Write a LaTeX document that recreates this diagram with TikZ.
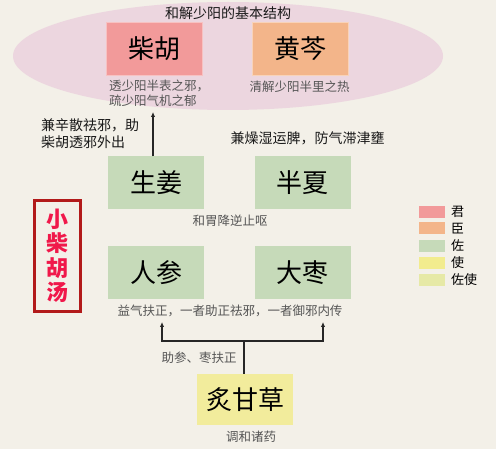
\documentclass[tikz,border=0pt]{standalone}
\usepackage{fontspec}
\newfontfamily\cjk{Noto Sans CJK SC}
\usetikzlibrary{arrows.meta,calc}
\definecolor{bg}{HTML}{F3F0E8}
\definecolor{ellc}{HTML}{ECD6DF}
\definecolor{jun}{HTML}{F29A9A}
\definecolor{chen}{HTML}{F3B58A}
\definecolor{zuo}{HTML}{C6DAB9}
\definecolor{shi}{HTML}{F2EC8E}
\definecolor{zuoshi}{HTML}{E6E9A6}
\definecolor{gancaoc}{HTML}{F2EC9C}
\definecolor{notec}{HTML}{555555}
\definecolor{darkred}{HTML}{B21A1A}
\definecolor{redtxt}{HTML}{F0184A}
\begin{document}
\begin{tikzpicture}[x=1pt,y=-1pt,
  herb/.style={minimum width=96pt,minimum height=53pt,inner sep=0pt,
    font=\cjk\fontsize{26}{26}\selectfont,text=black},
  note/.style={inner sep=0pt,font=\cjk\fontsize{12.5}{15}\selectfont,text=notec},
  strong/.style={inner sep=0pt,font=\cjk\fontsize{14}{17}\selectfont,text=black!90},
  conn/.style={draw=black!85,line width=1.2pt},
  arr/.style={conn,-{Latex[length=5pt,width=4.5pt]}},
  swatch/.style={minimum width=26pt,minimum height=12pt,inner sep=0pt},
  leglab/.style={inner sep=0pt,anchor=west,font=\cjk\fontsize{13}{13}\selectfont,text=black}]
\fill[bg] (0,0) rectangle (496,449);
\useasboundingbox (0,0) rectangle (496,449);
% ellipse
\fill[ellc] (228,56) ellipse [x radius=215pt, y radius=54pt];
\node[strong] (title) at (228,13) {和解少阳的基本结构};
% herbs
\node[herb,fill=jun,draw=jun!60,line width=0.8pt] (chaihu) at (154.5,48.5) {柴胡};
\node[herb,fill=chen,draw=chen!60,line width=0.8pt] (huangqin) at (300,48.5) {黄芩};
\node[herb,fill=zuo] (shengjiang) at (156,183) {生姜};
\node[herb,fill=zuo] (banxia) at (302.5,183) {半夏};
\node[herb,fill=zuo] (renshen) at (156,273) {人参};
\node[herb,fill=zuo] (dazao) at (302.5,273) {大枣};
\node[herb,fill=gancaoc,minimum height=51pt] (gancao) at (245,399.5) {炙甘草};
% notes
\node[note,anchor=north west,align=left] (chainote) at (109,80) {透少阳半表之邪，\\疏少阳气机之郁};
\node[note] (qinnote) at (299.5,87) {清解少阳半里之热};
\node[note] (jiangnote) at (230,221) {和胃降逆止呕};
\node[note] (rennote) at (230,311) {益气扶正，一者助正祛邪，一者御邪内传};
\node[note] (zhunote) at (199,358) {助参、枣扶正};
\node[note] (gannote) at (251,437) {调和诸药};
\node[strong,anchor=west,align=left] (jiangtxt) at (41,133.5) {兼辛散祛邪，助\\柴胡透邪外出};
\node[strong] (xiatxt) at (307.5,138) {兼燥湿运脾，防气滞津壅};
% arrows
\coordinate (jtop) at ($(shengjiang.north)+(-3,0)$);
\coordinate (jend) at (153,112);
\draw[arr] (jtop) -- (jend);
\coordinate (fork) at (244,341);
\coordinate (fl) at (162,341);
\coordinate (fr) at (323,341);
\coordinate (tl) at (162,322);
\coordinate (tr) at (323,322);
\draw[conn] (gancao.north -| fork) -- (fork);
\draw[arr] (fork) -- (fl) -- (tl);
\draw[arr] (fork) -- (fr) -- (tr);
% title box
\node[draw=darkred,line width=3pt,minimum width=46pt,minimum height=111pt,inner sep=0pt,
  text=redtxt,align=center,font=\cjk\bfseries\fontsize{22}{24.5}\selectfont] (fang) at (57.5,256) {小\\柴\\胡\\汤};
% legend
\node[swatch,fill=jun] (l1) at (432,212) {};
\node[swatch,fill=chen] (l2) at (432,228) {};
\node[swatch,fill=zuo] (l3) at (432,246) {};
\node[swatch,fill=shi] (l4) at (432,263) {};
\node[swatch,fill=zuoshi] (l5) at (432,280) {};
\node[leglab] (t1) at (451,212) {君};
\node[leglab] (t2) at (451,229) {臣};
\node[leglab] (t3) at (451,246) {佐};
\node[leglab] (t4) at (451,263) {使};
\node[leglab] (t5) at (451,280) {佐使};
\end{tikzpicture}
\end{document}
